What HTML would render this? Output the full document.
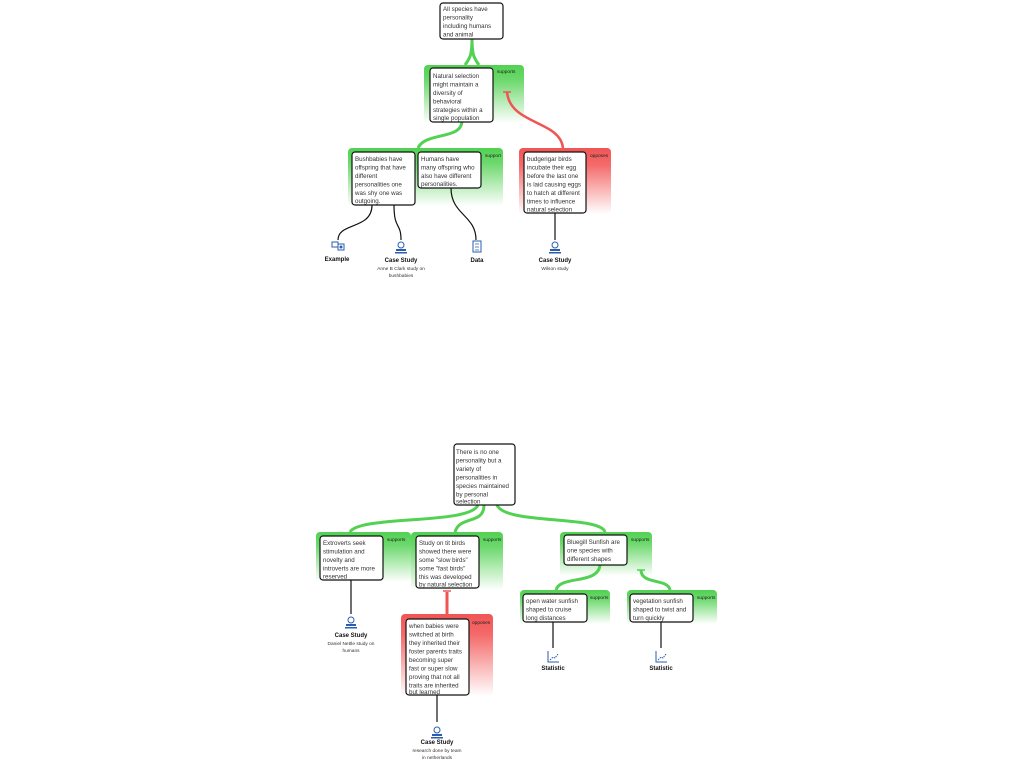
<!DOCTYPE html>
<html><head><meta charset="utf-8"><style>
html,body{margin:0;padding:0;background:#fff;}
svg text{font-family:"Liberation Sans",sans-serif;}
.t{font-size:6.2px;fill:#333;}
.lb{font-size:4.8px;fill:#222;}
.il{font-size:6px;font-weight:bold;fill:#111;}
.is{font-size:4.8px;fill:#333;}
.box{fill:#fff;stroke:#111;stroke-width:1.2;}
</style></head><body>
<svg width="1024" height="768" viewBox="0 0 1024 768" xmlns="http://www.w3.org/2000/svg">
<defs>
<linearGradient id="g" x1="0" y1="0" x2="0" y2="1">
<stop offset="0" stop-color="#52d152"/><stop offset="0.25" stop-color="#6bd86b"/><stop offset="1" stop-color="#fff"/></linearGradient>
<linearGradient id="r" x1="0" y1="0" x2="0" y2="1">
<stop offset="0" stop-color="#f05555"/><stop offset="0.25" stop-color="#f46a6a"/><stop offset="1" stop-color="#fff"/></linearGradient>
<g id="cs"><circle cx="0" cy="-5" r="3" fill="none" stroke="#2a5db0" stroke-width="1"/><rect x="-5" y="-1" width="10" height="2" fill="#2a5db0"/><rect x="-6" y="2" width="12" height="1.5" fill="#2a5db0"/></g>
<g id="st"><path d="M-5,-8 V3 H6" fill="none" stroke="#2a5db0" stroke-width="1"/><path d="M-3,1 L0,-2 L2,-1 L5,-5" fill="none" stroke="#2a5db0" stroke-width="1" stroke-dasharray="1.5,1"/></g>
</defs>

<rect x="424" y="65" width="100" height="58" rx="4" fill="url(#g)"/>
<rect x="348" y="148" width="155" height="58" rx="4" fill="url(#g)"/>
<rect x="519" y="148" width="92" height="66" rx="4" fill="url(#r)"/>
<rect x="316" y="532" width="95" height="50" rx="4" fill="url(#g)"/>
<rect x="411" y="532" width="92" height="58" rx="4" fill="url(#g)"/>
<rect x="401" y="614" width="92" height="82" rx="4" fill="url(#r)"/>
<rect x="560" y="532" width="92" height="44" rx="4" fill="url(#g)"/>
<rect x="520" y="590" width="90" height="34" rx="4" fill="url(#g)"/>
<rect x="627" y="590" width="90" height="34" rx="4" fill="url(#g)"/>

<g fill="none" stroke="#52d152" stroke-width="3">
<path d="M472,39 C472,55 470,58 465,65 M472,39 C472,55 474,58 479,65"/>
<path d="M462,122 C460,140 425,132 418,148"/>
<path d="M478,505 C470,525 360,515 350,532"/>
<path d="M484,505 C484,525 460,515 455,532"/>
<path d="M497,505 C505,525 600,515 605,532"/>
<path d="M600,565 C598,585 560,575 556,590"/>
<path d="M641,570 C641,585 668,578 670,590"/>
</g>
<path d="M563,148 C560,120 510,125 507,92" fill="none" stroke="#f05555" stroke-width="2.5"/>
<line x1="503" y1="92" x2="511" y2="92" stroke="#f05555" stroke-width="1.5"/>
<path d="M447,614 C447,605 447,600 447,592" fill="none" stroke="#f05555" stroke-width="3"/>
<line x1="443" y1="591" x2="451" y2="591" stroke="#f05555" stroke-width="1.5"/>
<line x1="637" y1="570" x2="645" y2="570" stroke="#52d152" stroke-width="1.5"/>

<g fill="none" stroke="#111" stroke-width="1.2">
<path d="M372,205 C372,230 338,222 338,240"/>
<path d="M394,205 C394,230 401,222 401,240"/>
<path d="M451,188 C451,215 476,215 476,240"/>
<path d="M555,213 V240"/>
<path d="M351,580 V614"/>
<path d="M437,695 V722"/>
<path d="M553,622 V648"/>
<path d="M661,622 V648"/>
</g>

<rect class="box" x="440" y="3" width="63" height="36" rx="3"/>
<text class="t" x="443" y="11">All species have</text><text class="t" x="443" y="19.5">personality</text><text class="t" x="443" y="28">including humans</text><text class="t" x="443" y="36.5">and animal</text>

<rect class="box" x="430" y="68" width="63" height="54" rx="3"/>
<text class="t" x="433" y="78">Natural selection</text><text class="t" x="433" y="86.5">might maintain a</text><text class="t" x="433" y="95">diversity of</text><text class="t" x="433" y="103.5">behavioral</text><text class="t" x="433" y="112">strategies within a</text><text class="t" x="433" y="120">single population</text>
<text class="lb" x="497" y="73">supports</text>

<rect class="box" x="352" y="152" width="63" height="53" rx="3"/>
<text class="t" x="355" y="161">Bushbabies have</text><text class="t" x="355" y="169.5">offspring that have</text><text class="t" x="355" y="178">different</text><text class="t" x="355" y="186.5">personalities one</text><text class="t" x="355" y="195">was shy one was</text><text class="t" x="355" y="203">outgoing.</text>
<rect class="box" x="418" y="152" width="63" height="36" rx="3"/>
<text class="t" x="421" y="161">Humans have</text><text class="t" x="421" y="169.5">many offspring who</text><text class="t" x="421" y="178">also have different</text><text class="t" x="421" y="186">personalities.</text>
<text class="lb" x="485" y="157">support</text>

<rect class="box" x="524" y="152" width="62" height="61" rx="3"/>
<text class="t" x="527" y="161">budgerigar birds</text><text class="t" x="527" y="169.5">incubate their egg</text><text class="t" x="527" y="178">before the last one</text><text class="t" x="527" y="186.5">is laid causing eggs</text><text class="t" x="527" y="195">to hatch at different</text><text class="t" x="527" y="203.5">times to influence</text><text class="t" x="527" y="211.5">natural selection</text>
<text class="lb" x="590" y="157">opposes</text>

<g transform="translate(338,249)"><rect x="-6" y="-7" width="6" height="5" fill="none" stroke="#2a5db0"/><rect x="0" y="-5" width="6" height="6" fill="none" stroke="#2a5db0"/><circle cx="3" cy="-2" r="1.5" fill="#2a5db0"/></g>
<text class="il" x="337" y="261" text-anchor="middle">Example</text>
<use href="#cs" x="401" y="250"/>
<text class="il" x="401" y="262" text-anchor="middle">Case Study</text>
<text class="is" x="401" y="270" text-anchor="middle">Anne B Clark study on</text><text class="is" x="401" y="277" text-anchor="middle">bushbabies</text>
<g transform="translate(477,247)"><rect x="-4" y="-6" width="8" height="11" fill="#fff" stroke="#2a5db0"/><path d="M-2,-3h4M-2,0h4M-2,3h4" stroke="#2a5db0" stroke-width="0.8"/></g>
<text class="il" x="477" y="262" text-anchor="middle">Data</text>
<use href="#cs" x="555" y="250"/>
<text class="il" x="555" y="262" text-anchor="middle">Case Study</text>
<text class="is" x="555" y="270" text-anchor="middle">Wilson study</text>

<rect class="box" x="454" y="444" width="61" height="61" rx="3"/>
<text class="t" x="456" y="454">There is no one</text><text class="t" x="456" y="462.5">personality but a</text><text class="t" x="456" y="471">variety of</text><text class="t" x="456" y="479.5">personalities in</text><text class="t" x="456" y="488">species maintained</text><text class="t" x="456" y="496.5">by personal</text><text class="t" x="456" y="503.5">selection</text>

<rect class="box" x="320" y="536" width="63" height="44" rx="3"/>
<text class="t" x="323" y="545">Extroverts seek</text><text class="t" x="323" y="553.5">stimulation and</text><text class="t" x="323" y="562">novelty and</text><text class="t" x="323" y="570.5">introverts are more</text><text class="t" x="323" y="578.5">reserved</text>
<text class="lb" x="387" y="541">supports</text>

<rect class="box" x="416" y="536" width="63" height="52" rx="3"/>
<text class="t" x="419" y="545">Study on tit birds</text><text class="t" x="419" y="553.5">showed there were</text><text class="t" x="419" y="562">some "slow birds"</text><text class="t" x="419" y="570.5">some "fast birds"</text><text class="t" x="419" y="579">this was developed</text><text class="t" x="419" y="586.5">by natural selection</text>
<text class="lb" x="483" y="541">supports</text>

<rect class="box" x="406" y="619" width="63" height="76" rx="3"/>
<text class="t" x="409" y="628">when babies were</text><text class="t" x="409" y="636.5">switched at birth</text><text class="t" x="409" y="645">they inherited their</text><text class="t" x="409" y="653.5">foster parents traits</text><text class="t" x="409" y="662">becoming super</text><text class="t" x="409" y="670.5">fast or super slow</text><text class="t" x="409" y="679">proving that not all</text><text class="t" x="409" y="687.5">traits are inherited</text><text class="t" x="409" y="694">but learned</text>
<text class="lb" x="472" y="624">opposes</text>

<rect class="box" x="564" y="535" width="63" height="30" rx="3"/>
<text class="t" x="567" y="544">Bluegill Sunfish are</text><text class="t" x="567" y="552.5">one species with</text><text class="t" x="567" y="561">different shapes</text>
<text class="lb" x="631" y="541">supports</text>

<rect class="box" x="523" y="594" width="64" height="28" rx="3"/>
<text class="t" x="526" y="603">open water sunfish</text><text class="t" x="526" y="611.5">shaped to cruise</text><text class="t" x="526" y="620">long distances</text>
<text class="lb" x="590" y="599">supports</text>

<rect class="box" x="630" y="594" width="63" height="28" rx="3"/>
<text class="t" x="633" y="603">vegetation sunfish</text><text class="t" x="633" y="611.5">shaped to twist and</text><text class="t" x="633" y="620">turn quickly</text>
<text class="lb" x="697" y="599">supports</text>

<use href="#cs" x="351" y="625"/>
<text class="il" x="351" y="637" text-anchor="middle">Case Study</text>
<text class="is" x="351" y="645" text-anchor="middle">Daniel Nettle study on</text><text class="is" x="351" y="652" text-anchor="middle">humans</text>
<use href="#cs" x="437" y="735"/>
<text class="il" x="437" y="744" text-anchor="middle">Case Study</text>
<text class="is" x="437" y="752" text-anchor="middle">research done by team</text><text class="is" x="437" y="759" text-anchor="middle">in netherlands</text>
<use href="#st" x="553" y="659"/>
<text class="il" x="553" y="670" text-anchor="middle">Statistic</text>
<use href="#st" x="661" y="659"/>
<text class="il" x="661" y="670" text-anchor="middle">Statistic</text>
</svg>
</body></html>
